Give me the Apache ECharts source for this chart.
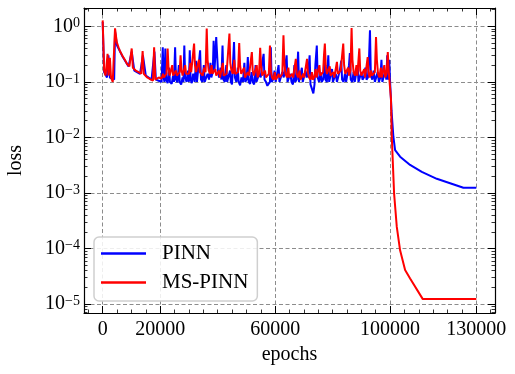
<!DOCTYPE html>
<html>
<head>
<meta charset="utf-8">
<script src="https://cdn.jsdelivr.net/npm/echarts@6/dist/echarts.min.js"></script>
<style>
html, body { margin: 0; padding: 0; background: #fff; }
#chart { width: 515px; height: 374px; }
</style>
</head>
<body>
<div id="chart"></div>
<script>
// [epoch, loss]
var pinnCurve = [
    [0, 1.2], [500, 0.15], [1500, 0.12], [2000, 0.3], [2500, 0.12], [4000, 0.11], [4300, 0.8], [5000, 0.45], [7000, 0.28],
    [9000, 0.19], [10100, 0.35], [11000, 0.16], [13000, 0.14], [14000, 0.3], [15000, 0.13], [17000, 0.11], [18000, 0.35],
    [18500, 0.11], [19500, 0.105],
    [20000, 0.105], [20500, 0.1], [20900, 0.42], [21200, 0.12], [21500, 0.1], [21800, 0.4], [22100, 0.11], [22600, 0.095],
    [23100, 0.18], [23400, 0.1], [24000, 0.092], [24500, 0.13], [24800, 0.1], [25200, 0.42], [25500, 0.11], [26000, 0.098],
    [26500, 0.2], [26800, 0.1], [27300, 0.09], [27800, 0.12], [28100, 0.1], [28400, 0.45], [28700, 0.12], [29200, 0.1],
    [29700, 0.16], [30000, 0.1], [30300, 0.37], [30600, 0.11], [31000, 0.095], [31500, 0.14], [32000, 0.1], [32500, 0.24],
    [32800, 0.1], [33300, 0.095], [33900, 0.37], [34200, 0.11], [34700, 0.1], [35200, 0.2], [35500, 0.1], [36000, 0.1],
    [36500, 0.14], [37000, 0.11], [37500, 0.22], [37800, 0.12], [38300, 0.15], [38600, 0.55], [38900, 0.16], [39200, 0.3],
    [39500, 0.64], [39800, 0.69], [40100, 0.16], [40500, 0.12], [41000, 0.18], [41300, 0.11], [41700, 0.45], [42000, 0.11],
    [42500, 0.1], [43000, 0.2], [43300, 0.1], [43800, 0.093], [44300, 0.16], [44600, 0.1], [45000, 0.09], [45400, 0.25],
    [45700, 0.52], [46000, 0.12], [46500, 0.1], [47000, 0.18], [47300, 0.1], [47800, 0.087], [48300, 0.12], [48800, 0.1],
    [49300, 0.22], [49600, 0.1], [50100, 0.11], [50500, 0.28], [50800, 0.1], [51300, 0.092], [51800, 0.15], [52200, 0.1],
    [52700, 0.09], [53200, 0.2], [53500, 0.1], [54000, 0.1], [54500, 0.14], [55000, 0.12], [55500, 0.22], [56000, 0.32],
    [56300, 0.11], [56800, 0.1], [57300, 0.085], [57800, 0.079], [58200, 0.1], [58500, 0.42], [58800, 0.1], [59300, 0.11],
    [59800, 0.16], [60200, 0.1], [60700, 0.1], [61200, 0.2], [61500, 0.1], [62000, 0.105], [62500, 0.15], [63000, 0.12],
    [63500, 0.13], [64000, 0.3], [64300, 0.1], [64800, 0.095], [65300, 0.14], [65700, 0.1], [66200, 0.09], [66700, 0.2],
    [67000, 0.1], [67500, 0.11], [68000, 0.35], [68300, 0.1], [68800, 0.1], [69300, 0.18], [69600, 0.1], [70100, 0.1],
    [70600, 0.16], [71000, 0.12], [71500, 0.14], [72000, 0.3], [72300, 0.09], [72800, 0.075], [73300, 0.062], [73700, 0.09],
    [74000, 0.2], [74500, 0.45], [74800, 0.12], [75300, 0.1], [75800, 0.15], [76200, 0.1], [76700, 0.11], [77200, 0.22],
    [77500, 0.11], [78000, 0.1], [78500, 0.3], [78800, 0.1], [79300, 0.1], [79800, 0.17], [80100, 0.1], [80600, 0.105],
    [81100, 0.14], [81500, 0.1], [82000, 0.1], [82500, 0.16], [83000, 0.24], [83300, 0.11], [83800, 0.1], [84300, 0.14],
    [84700, 0.1], [85200, 0.1], [85700, 0.2], [86000, 0.33], [86300, 0.11], [86800, 0.1], [87300, 0.15], [87700, 0.1],
    [88200, 0.1], [88700, 0.2], [89000, 0.1], [89500, 0.1], [90000, 0.15], [90400, 0.11], [90900, 0.12], [91400, 0.18],
    [91800, 0.11], [92300, 0.12], [92700, 0.3], [93000, 0.85], [93300, 0.13], [93800, 0.11], [94300, 0.16], [94700, 0.1],
    [95200, 0.1], [95700, 0.15], [96100, 0.1], [96600, 0.12], [97000, 0.25], [97300, 0.1], [97800, 0.1], [98300, 0.16],
    [98700, 0.11], [99000, 0.3], [99300, 0.11], [99700, 0.25], [100000, 0.1],
    [100500, 0.03], [101150, 0.0102], [101740, 0.0059], [103480, 0.0045], [106960, 0.0032], [111030, 0.0024],
    [116250, 0.0018], [120880, 0.0015], [125510, 0.00124], [130000, 0.00124]
];

var msCurve = [
    [0, 1.28], [500, 0.16], [1000, 0.13], [1400, 0.12], [1700, 0.32], [2000, 0.13], [2500, 0.27], [2900, 0.12], [3500, 0.1],
    [4300, 0.92], [4900, 0.52], [5500, 0.42], [6000, 0.36], [6800, 0.3], [7700, 0.25], [8500, 0.21], [9300, 0.19],
    [9800, 0.18], [10100, 0.4], [10500, 0.18], [11500, 0.16], [12500, 0.15], [13400, 0.14], [13900, 0.36], [14300, 0.14],
    [15500, 0.12], [16800, 0.11], [17500, 0.105], [17900, 0.42], [18300, 0.11], [19500, 0.12],
    [20000, 0.12], [20500, 0.115], [21000, 0.14], [21300, 0.12], [21800, 0.13], [22200, 0.14], [22600, 0.4], [22900, 0.18],
    [23300, 0.13], [23800, 0.125], [24200, 0.2], [24500, 0.13], [25000, 0.125], [25500, 0.16], [25800, 0.13], [26300, 0.13],
    [26800, 0.15], [27100, 0.3], [27400, 0.17], [27800, 0.13], [28300, 0.14], [28700, 0.2], [29000, 0.14], [29500, 0.15],
    [30000, 0.14], [30500, 0.22], [30800, 0.15], [31300, 0.14], [31800, 0.49], [32100, 0.2], [32500, 0.15], [33000, 0.14],
    [33500, 0.25], [33800, 0.15], [34300, 0.14], [34800, 0.13], [35300, 0.18], [35800, 0.15], [36200, 0.91], [36500, 0.25],
    [36900, 0.16], [37400, 0.14], [37900, 0.2], [38200, 0.14], [38700, 0.13], [39200, 0.17], [39500, 0.13], [40000, 0.12],
    [40500, 0.16], [40800, 0.12], [41300, 0.13], [41800, 0.22], [42100, 0.13], [42600, 0.12], [43100, 0.14], [43700, 0.15],
    [44100, 0.74], [44400, 0.22], [44800, 0.16], [45300, 0.14], [45800, 0.25], [46100, 0.14], [46600, 0.13], [47100, 0.15],
    [47500, 0.5], [47800, 0.2], [48200, 0.14], [48700, 0.13], [49200, 0.18], [49500, 0.12], [50000, 0.12], [50500, 0.15],
    [50900, 0.13], [51400, 0.14], [51900, 0.345], [52200, 0.16], [52600, 0.13], [53100, 0.12], [53600, 0.2], [53900, 0.12],
    [54400, 0.14], [54800, 0.41], [55100, 0.2], [55500, 0.13], [56000, 0.12], [56500, 0.16], [56800, 0.12], [57300, 0.13],
    [57800, 0.14], [58200, 0.45], [58500, 0.16], [58900, 0.12], [59400, 0.11], [59900, 0.15], [60200, 0.11], [60700, 0.12],
    [61200, 0.14], [61600, 0.12], [62100, 0.13], [62500, 0.14], [62900, 0.69], [63200, 0.22], [63600, 0.14], [64100, 0.12],
    [64600, 0.18], [64900, 0.12], [65400, 0.115], [65900, 0.14], [66300, 0.12], [66800, 0.13], [67200, 0.26], [67500, 0.14],
    [68000, 0.12], [68500, 0.16], [68800, 0.11], [69300, 0.11], [69800, 0.14], [70100, 0.12], [70600, 0.12], [71100, 0.26],
    [71400, 0.15], [71800, 0.12], [72300, 0.11], [72800, 0.15], [73100, 0.11], [73600, 0.12], [74100, 0.17], [74400, 0.12],
    [74900, 0.12], [75400, 0.2], [75700, 0.13], [76200, 0.14], [76700, 0.15], [77000, 0.3], [77300, 0.49], [77600, 0.2],
    [78000, 0.14], [78500, 0.13], [79000, 0.19], [79300, 0.13], [79800, 0.12], [80300, 0.15], [80600, 0.12], [81100, 0.13],
    [81500, 0.23], [81800, 0.14], [82300, 0.13], [82800, 0.16], [83200, 0.15], [83700, 0.49], [84000, 0.2], [84400, 0.14],
    [84900, 0.13], [85400, 0.18], [85700, 0.13], [86200, 0.16], [86600, 0.93], [86900, 0.25], [87300, 0.15], [87800, 0.13],
    [88300, 0.2], [88600, 0.13], [89000, 0.14], [89300, 0.4], [89600, 0.16], [90000, 0.13], [90500, 0.12], [91000, 0.17],
    [91300, 0.12], [91800, 0.13], [92200, 0.28], [92500, 0.15], [92900, 0.12], [93400, 0.16], [93700, 0.13], [94200, 0.14],
    [94700, 0.15], [95100, 0.64], [95400, 0.25], [95800, 0.14], [96300, 0.12], [96800, 0.18], [97100, 0.12], [97600, 0.13],
    [98000, 0.2], [98300, 0.12], [98800, 0.14], [99200, 0.345], [99500, 0.16], [99800, 0.17], [100000, 0.15],
    [100300, 0.05], [100590, 0.0102], [101390, 0.00098], [102330, 0.000245], [103480, 0.000093], [105220, 0.000041],
    [106960, 0.000029], [111380, 0.0000123], [130000, 0.0000123]
];

var seriesNames = ['PINN', 'MS-PINN'];
var seriesColors = ['#0000ff', '#ff0000'];
var xTicks = [0, 20000, 60000, 100000, 130000];
var yDecades = [-5, -4, -3, -2, -1, 0];
var xMin = -6500, xMax = 136500;
var yMin = -5.16, yMax = 0.33;

var font = 'Liberation Serif';

var xMinor = [];
for (var e = -5000; e <= 135000; e += 5000) {
    if (xTicks.indexOf(e) < 0) xMinor.push(e);
}
var yMinor = [];
for (var n = -6; n <= 0; n++) {
    for (var k = 2; k <= 9; k++) {
        var v = n + Math.log10(k);
        if (v > yMin && v < yMax) yMinor.push(v);
    }
}

// log10 of the loss, drawn on a value axis with 10^n labels
function toPoints(curve) {
    var out = [];
    for (var i = 0; i < curve.length; i++) {
        out.push([curve[i][0], Math.log10(curve[i][1])]);
    }
    return out;
}

function frameAxis(extra) {
    var ax = {
        type: 'value',
        axisLine: { show: true, onZero: false, lineStyle: { color: '#000', width: 1.2 } },
        axisTick: { show: true, inside: true, length: 7, lineStyle: { color: '#000', width: 1 } },
        axisLabel: { show: false },
        splitLine: { show: false }
    };
    for (var key in extra) ax[key] = extra[key];
    return ax;
}

function majorTick(values) {
    return { show: true, inside: true, length: 7, customValues: values, lineStyle: { color: '#000', width: 1 } };
}

function minorTick(values) {
    return { show: true, inside: true, length: 3.5, customValues: values, lineStyle: { color: '#000', width: 0.8 } };
}

var gridLine = { show: true, lineStyle: { color: '#8c8c8c', width: 1, type: [4, 2.5] } };

var xAxes = [
    frameAxis({
        min: xMin, max: xMax, position: 'bottom',
        axisTick: majorTick(xTicks),
        axisLabel: {
            show: true, customValues: xTicks, margin: 7, color: '#000', fontFamily: font, fontSize: 20,
            formatter: function (v) { return String(v); }
        },
        splitLine: gridLine,
        name: 'epochs', nameLocation: 'middle', nameGap: 32,
        nameTextStyle: { color: '#000', fontFamily: font, fontSize: 20 }
    }),
    frameAxis({ min: xMin, max: xMax, position: 'bottom', axisLine: { show: false, onZero: false }, axisTick: minorTick(xMinor) }),
    frameAxis({ min: xMin, max: xMax, position: 'top', axisTick: majorTick(xTicks) }),
    frameAxis({ min: xMin, max: xMax, position: 'top', axisLine: { show: false, onZero: false }, axisTick: minorTick(xMinor) })
];

var yAxes = [
    frameAxis({
        min: yMin, max: yMax, position: 'left',
        axisTick: majorTick(yDecades),
        axisLabel: {
            show: true, customValues: yDecades, margin: 4,
            formatter: function (v) {
                var p = Math.round(v);
                return '{b|10}{s|' + (p < 0 ? '\u2212' + (-p) : p) + '}';
            },
            rich: {
                b: { color: '#000', fontFamily: font, fontSize: 20, lineHeight: 20, verticalAlign: 'middle' },
                s: { color: '#000', fontFamily: font, fontSize: 14, lineHeight: 14, verticalAlign: 'top', padding: [0, 0, 17, 0] }
            }
        },
        splitLine: gridLine,
        name: 'loss', nameLocation: 'middle', nameGap: 58,
        nameTextStyle: { color: '#000', fontFamily: font, fontSize: 20 }
    }),
    frameAxis({ min: yMin, max: yMax, position: 'left', axisLine: { show: false, onZero: false }, axisTick: minorTick(yMinor) }),
    frameAxis({ min: yMin, max: yMax, position: 'right', axisTick: majorTick(yDecades) }),
    frameAxis({ min: yMin, max: yMax, position: 'right', axisLine: { show: false, onZero: false }, axisTick: minorTick(yMinor) })
];

var curves = [pinnCurve, msCurve];
var series = [];
for (var s = 0; s < curves.length; s++) {
    series.push({
        name: seriesNames[s], type: 'line', xAxisIndex: 0, yAxisIndex: 0,
        data: toPoints(curves[s]),
        symbol: 'none', color: seriesColors[s],
        lineStyle: { color: seriesColors[s], width: 2 }
    });
}

var chart = echarts.init(document.getElementById('chart'));

chart.setOption({
    animation: false,
    backgroundColor: '#fff',
    grid: { left: 84, right: 20, top: 8, bottom: 61, containLabel: false, outerBoundsMode: 'none' },
    xAxis: xAxes,
    yAxis: yAxes,
    legend: {
        orient: 'vertical',
        left: 94, top: 237,
        data: seriesNames,
        icon: 'rect',
        itemWidth: 45, itemHeight: 2.5, itemGap: 8,
        padding: [6, 9, 8, 7],
        backgroundColor: 'rgba(255,255,255,0.85)',
        borderColor: '#cfcfcf', borderWidth: 1.5, borderRadius: 5,
        textStyle: { color: '#000', fontFamily: font, fontSize: 21, padding: [0, 0, 0, 11] }
    },
    series: series
});
</script>
</body>
</html>
